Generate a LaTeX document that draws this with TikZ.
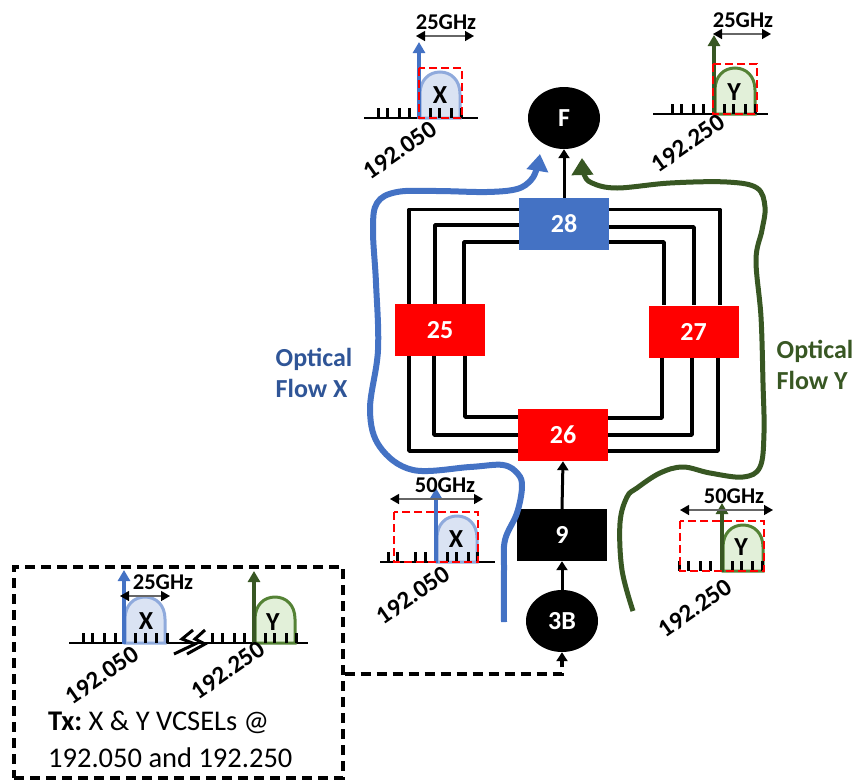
\documentclass[tikz,border=0pt]{standalone}
\usepackage{fontspec}
\setmainfont{Carlito}
\usepackage{tikz}
\usetikzlibrary{arrows.meta,positioning,calc,shapes.geometric}
\definecolor{flowblue}{HTML}{4472C4}
\definecolor{flowgreen}{HTML}{385723}
\definecolor{textblue}{HTML}{2F5597}
\definecolor{bumpblue}{HTML}{DAE3F3}
\definecolor{edgeblue}{HTML}{8FAADC}
\definecolor{bumpgreen}{HTML}{E2F0D9}
\definecolor{edgegreen}{HTML}{548235}
\tikzset{
  switchbox/.style={rectangle,minimum width=90pt,minimum height=52pt,inner sep=0pt,
    text=white,font=\fontsize{26}{28}\selectfont\bfseries},
  endnode/.style={ellipse,fill=black,minimum width=72pt,minimum height=62pt,inner sep=0pt,
    text=white,font=\fontsize{26}{28}\selectfont\bfseries},
  wire/.style={line width=3.4pt,line join=round},
  hop/.style={line width=3pt,-{Triangle[length=9pt,width=11pt]}},
  flowline/.style={line width=6pt,-{Triangle[length=17pt,width=21pt]}},
  ghzlabel/.style={font=\fontsize{22.5}{24}\selectfont\bfseries,inner sep=0pt},
  letterlabel/.style={font=\fontsize{26}{28}\selectfont\bfseries,inner sep=0pt},
  freqlabel/.style={font=\fontsize{25}{28}\selectfont\bfseries,inner sep=0pt,rotate=35},
  flowlabel/.style={font=\fontsize{26}{31}\selectfont\bfseries,align=left,inner sep=0pt},
  spanline/.style={line width=1.4pt,black!60,{Triangle[length=9pt,width=10pt,black]}-{Triangle[length=9pt,width=10pt,black]}},
  baseline/.style={line width=2.4pt},
  gridbox/.style={red,line width=2.8pt,dash pattern=on 8pt off 4pt},
  tick/.style={line width=3pt},
  txline/.style={line width=3.2pt,dash pattern=on 10pt off 6pt},
}
% spectrum at (#1): fill, edge, carrier colour, arrow top, tick offsets
\newcommand{\spectrum}[6]{
  \begin{scope}[shift={(#1)}]
    \draw[fill=#2,draw=#3,line width=3pt] (1,0) -- (1,-24)
      .. controls (1,-38) and (10,-46) .. (21,-46)
      .. controls (32,-46) and (41,-38) .. (41,-24) -- (41,0) -- cycle;
    \foreach \t in {#6} \draw[tick] (\t,0) -- (\t,-10);
    \draw[line width=3.6pt,draw=#4,fill=#4,-{Triangle[length=11pt,width=12pt]}] (0,1) -- (0,#5);
  \end{scope}
}
\newcommand{\freqspan}[6]{
  \coordinate (#1l) at (#2,#4);
  \coordinate (#1r) at (#3,#4);
  \draw[spanline] (#1l) -- (#1r);
  \node[ghzlabel] (#1) at (#5,#4-14) {#6};
}
\begin{document}
\begin{tikzpicture}[x=1pt,y=-1pt]
  \useasboundingbox (0,0) rectangle (855,780);
  \node[endnode] (nodeF) at (564,118) {F};
  \node[switchbox,fill=flowblue] (box28) at (564,224) {28};
  \node[switchbox,fill=red] (box25) at (440,330) {25};
  \node[switchbox,fill=red] (box27) at (693.5,331.5) {27};
  \node[switchbox,fill=red] (box26) at (563,435) {26};
  \node[switchbox,fill=black] (box9) at (562,535) {9};
  \node[endnode] (node3B) at (562,621) {3B};
  % Fibres around the ring
  \draw[wire] ([yshift=14.5pt]box28.west) -| ([xshift=-31pt]box25.north);
  \draw[wire] ([yshift=-1pt]box28.west) -| ([xshift=-5pt]box25.north);
  \draw[wire] ([yshift=-18pt]box28.west) -| ([xshift=24pt]box25.north);
  \draw[wire] ([xshift=-31pt]box25.south) |- ([yshift=-16pt]box26.west);
  \draw[wire] ([xshift=-6pt]box25.south) |- (box26.west);
  \draw[wire] ([xshift=25pt]box25.south) |- ([yshift=18pt]box26.west);
  \draw[wire] ([yshift=14.5pt]box28.east) -| ([xshift=26.5pt]box27.north);
  \draw[wire] ([yshift=-3pt]box28.east) -| ([xshift=0.5pt]box27.north);
  \draw[wire] ([yshift=-18pt]box28.east) -| ([xshift=-29.5pt]box27.north);
  \draw[wire] ([xshift=24.5pt]box27.south) |- ([yshift=-16pt]box26.east);
  \draw[wire] ([xshift=-1.5pt]box27.south) |- (box26.east);
  \draw[wire] ([xshift=-31.5pt]box27.south) |- ([yshift=17pt]box26.east);
  % Hops
  \draw[hop] (box28.north) -- (nodeF.south);
  \draw[hop] (box9.north) -- (box26.south);
  \draw[hop] (node3B.north) -- (box9.south);
  % Optical flows
  \draw[flowline,flowblue] plot[smooth,tension=0.6] coordinates {(504,622) (504,570) (505,540) (517,513)
    (522,487) (518,474) (503,465) (470,467) (413,470) (380,447) (370,410) (378,350)
    (376,283) (373,230) (377,203) (397,192) (437,191) (487,192) (517,189) (531,180) (537,168) (540,154)};
  \draw[flowline,flowgreen,line width=5pt] plot[smooth,tension=0.6] coordinates {(633,611) (622,570) (620,523)
    (627,497) (637,488) (660,473) (683,467) (710,473) (743,477) (760,467) (764,433)
    (763,383) (761,317) (756,260) (762,230) (765,207) (757,188) (727,182) (670,183)
    (617,188) (592,183) (584,174) (582,158)};
  \node[flowlabel,text=textblue] (flowX) at (314,373) {Optical\\Flow X};
  \node[flowlabel,text=flowgreen] (flowY) at (815,365) {Optical\\Flow Y};
  % Spectrum at F, X
  \draw[baseline] (364,118) -- (478,118);
  \spectrum{419,118}{bumpblue}{edgeblue}{flowblue}{-76}{-41,-32,-20,-10,11,20,32,42}
  \draw[gridbox] (419,68) rectangle (462,118);
  \node[letterlabel] (letterXa) at (440,95) {X};
  \freqspan{spanXa}{416}{474}{36}{446}{25GHz}
  \node[freqlabel] (freqXa) at (400,150) {192.050};
  % Spectrum at F, Y
  \draw[baseline] (653,114) -- (768,114);
  \spectrum{714,114}{bumpgreen}{edgegreen}{flowgreen}{-79}{-42,-33,-21,-11,10,19,31,41}
  \draw[gridbox] (713,64) rectangle (757,114);
  \node[letterlabel] (letterYa) at (734,92) {Y};
  \freqspan{spanYa}{713}{771}{34}{743}{25GHz}
  \node[freqlabel] (freqYa) at (688,143) {192.250};
  % Spectrum after 9, X
  \draw[baseline] (380,562) -- (495,562);
  \spectrum{436,562}{bumpblue}{edgeblue}{flowblue}{-74}{-48,-39,-21,-11,11,20,32,41}
  \draw[gridbox] (394,512) rectangle (478,562);
  \node[letterlabel] (letterXb) at (456,539) {X};
  \freqspan{spanXb}{390}{483}{499}{445}{50GHz}
  \node[freqlabel] (freqXb) at (413,595) {192.050};
  % Spectrum after 9, Y
  \spectrum{722,571}{bumpgreen}{edgegreen}{flowgreen}{-68}{-43,-34,-22,-12,10,19,30,40}
  \draw[gridbox] (680,521) rectangle (764,571);
  \node[letterlabel] (letterYb) at (741,547) {Y};
  \freqspan{spanYb}{680}{773}{510}{734}{50GHz}
  \node[freqlabel] (freqYb) at (695,608) {192.250};
  % Transmitter
  \node[draw,txline,minimum width=329pt,minimum height=211pt,inner sep=0pt] (txbox) at (178.5,672.5) {};
  \draw[txline,line width=3.6pt,-{Triangle[length=9pt,width=11pt]}] ([yshift=-1.5pt]txbox.east) -| (node3B.south);
  \draw[baseline] (69,643) -- (308,643);
  \spectrum{124,643}{bumpblue}{edgeblue}{flowblue}{-73}{-41,-32,-20,-9,11,21,32,43}
  \spectrum{254,643}{bumpgreen}{edgegreen}{flowgreen}{-72}{-42,-32,-20,-10,11,20,32,42}
  \node[letterlabel] (letterXc) at (146,621) {X};
  \node[letterlabel] (letterYc) at (273,622) {Y};
  \freqspan{spanTx}{120}{170}{596}{163}{25GHz}
  \draw[line width=3pt] (174,654) -- (195,644) -- (182,639) -- (193,630);
  \draw[line width=3pt] (187,654) -- (205,644) -- (195,639) -- (205,630);
  \node[freqlabel] (freqXc) at (102,675) {192.050};
  \node[freqlabel] (freqYc) at (228,670) {192.250};
  \node[font=\fontsize{28.5}{37}\selectfont,align=left,anchor=west,inner sep=0pt] (txnote) at (48,739)
    {\textbf{Tx:}\ X \& Y VCSELs @\\192.050 and 192.250};
\end{tikzpicture}
\end{document}
